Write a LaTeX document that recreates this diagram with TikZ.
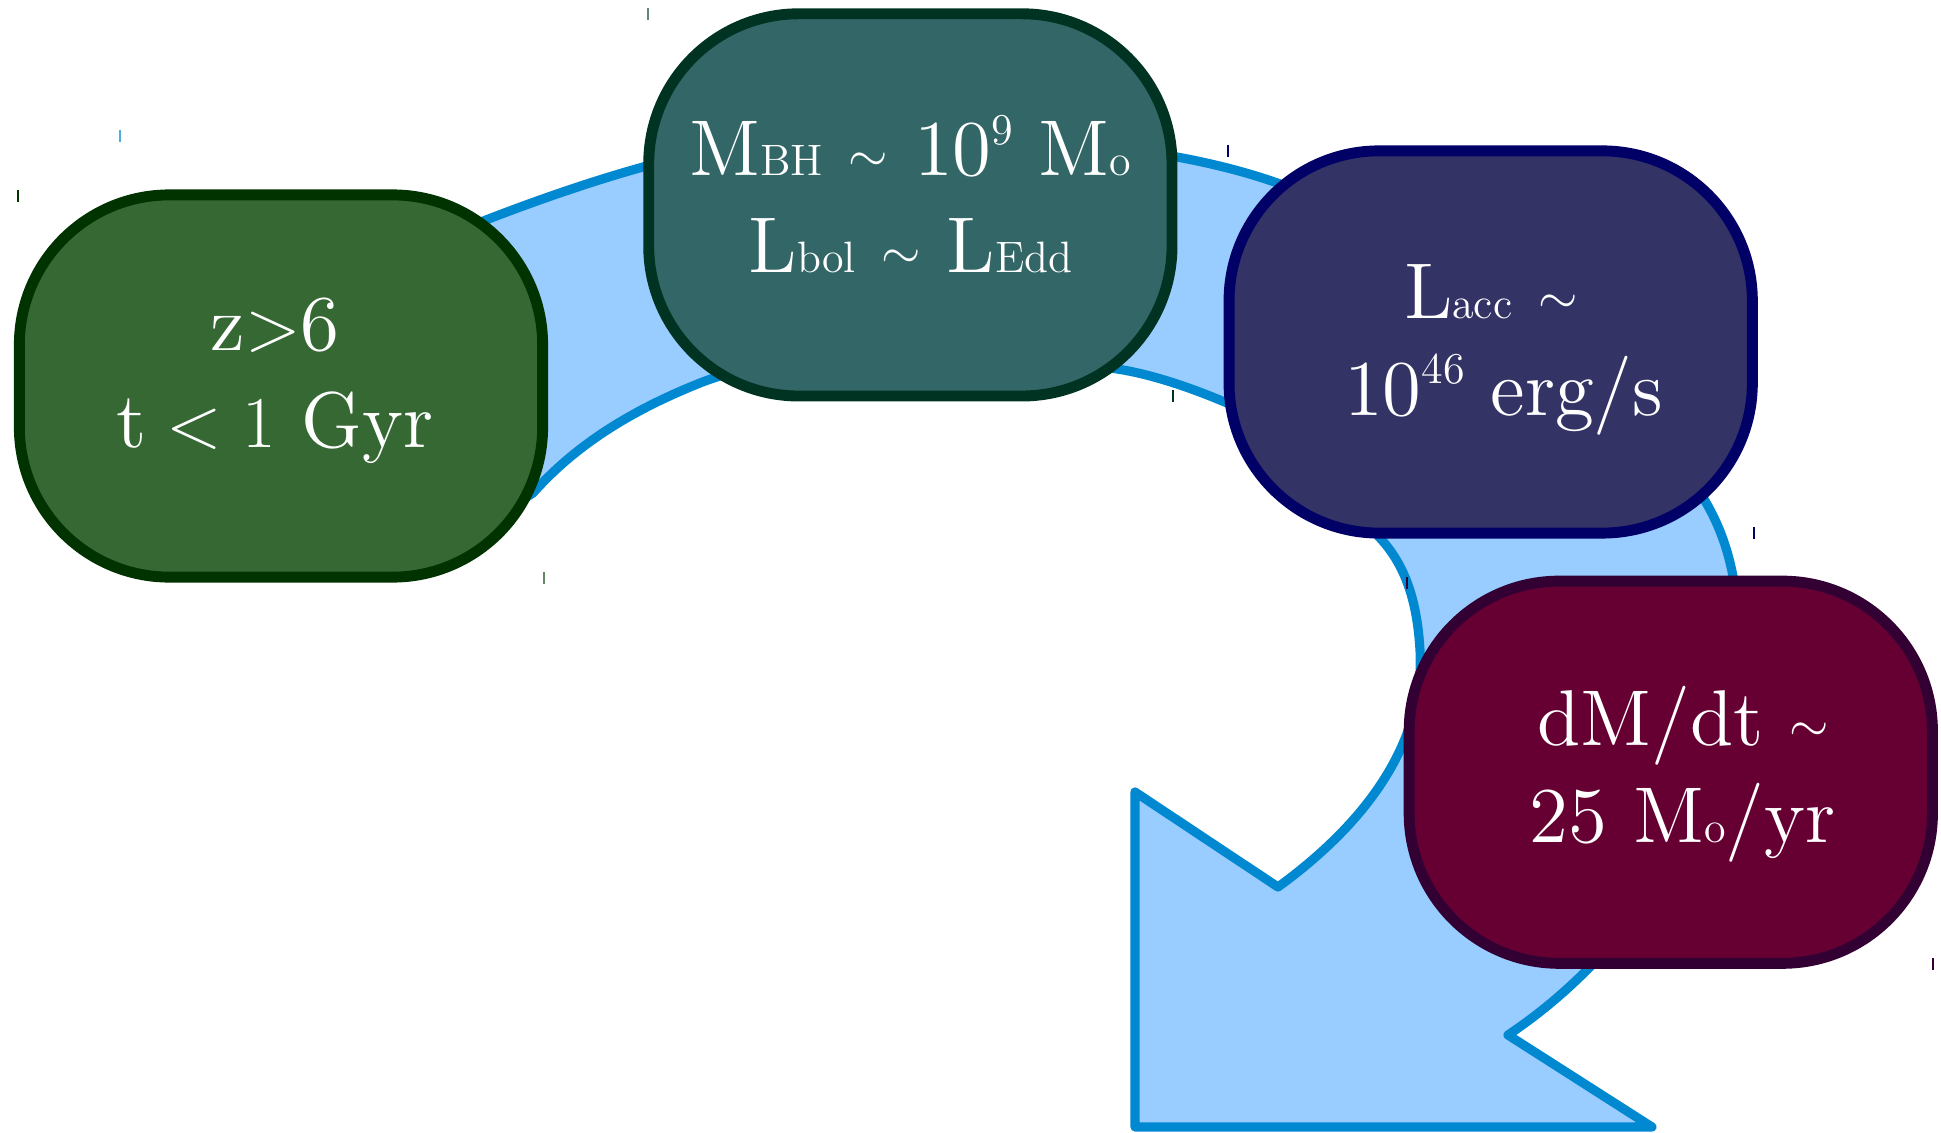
\documentclass[tikz,border=0pt]{standalone}
\usepackage{amsmath}
\usepackage{fontspec}
\setmainfont{lmroman12-regular.otf}
\usepackage{tikz}
\usetikzlibrary{positioning}

\definecolor{bandfill}{HTML}{99CCFF}
\definecolor{bandline}{HTML}{0088D1}
\definecolor{erafill}{HTML}{366834}
\definecolor{eraline}{HTML}{003300}
\definecolor{massfill}{HTML}{336666}
\definecolor{massline}{HTML}{003322}
\definecolor{laccfill}{HTML}{333366}
\definecolor{laccline}{HTML}{000066}
\definecolor{mdotfill}{HTML}{660033}
\definecolor{mdotline}{HTML}{330033}

\newcommand{\bigtxt}{\fontsize{22.5}{27.6}\selectfont}
\newcommand{\sml}[1]{{\fontsize{12.5}{14}\selectfont #1}}
\newcommand{\pw}[1]{\raisebox{9pt}{\sml{#1}}}
\newcommand{\tld}{\raisebox{1.3pt}{\fontsize{15}{16}\selectfont$\sim$}}
% struts and padding to set the text inside the boxes
\newcommand{\htstrut}[1]{\rule{0pt}{#1}}
\newcommand{\dpstrut}[1]{\rule[-#1]{0pt}{#1}}
\newcommand{\pad}[1]{\hspace*{#1}}

\begin{document}
\begin{tikzpicture}[
  x=0.01cm, y=-0.01cm,
  every node/.style={font=\bigtxt, text=white},
  stage/.style={rectangle, rounded corners=1.5cm, line width=3.1pt, align=center, minimum width=5.23cm, minimum height=3.82cm, inner sep=0pt, outer sep=0pt},
  band/.style={fill=bandfill, draw=bandline, line width=2.6pt, line join=round},
  tick/.style={line width=0.5pt}
]
\useasboundingbox (0,0) rectangle (1941,1133);

% the big curved arrow behind the boxes
\draw[band] (400,255) .. controls (470,225) and (560,190) .. (643,167)
  .. controls (820,115) and (1010,125) .. (1177,157)
  .. controls (1215,164) and (1250,173) .. (1283,185)
  .. controls (1450,245) and (1620,378) .. (1698,490)
  .. controls (1795,630) and (1710,900) .. (1508,1035)
  -- (1652,1127) -- (1135,1127) -- (1135,792) -- (1278,887)
  .. controls (1370,820) and (1425,740) .. (1420,650)
  .. controls (1417,600) and (1405,565) .. (1380,538)
  .. controls (1345,500) and (1287,429) .. (1227,403)
  .. controls (1187,386) and (1140,370) .. (1100,367)
  .. controls (1000,352) and (800,343) .. (700,383)
  .. controls (640,407) and (580,440) .. (533,493)
  -- (460,540) -- cycle;

\node[stage, fill=erafill, draw=eraline] (era) at (281,386)
  {z$>$6\pad{.12cm}\\ \(\mathrm{t} < 1\) Gyr\pad{.12cm}\dpstrut{7.8pt}};
\node[stage, fill=massfill, draw=massline, right=1.06cm of era, yshift=1.81cm] (mass)
  {M\sml{BH} \tld{} 10\pw{9} M\sml{o}\\L\sml{bol} \tld{} L\sml{Edd}\dpstrut{6.3pt}};
\node[stage, fill=laccfill, draw=laccline, right=0.57cm of mass, yshift=-1.37cm] (lacc)
  {\htstrut{19.9pt}L\sml{acc} \tld\\ \pad{.26cm}10\pw{46} erg/s};
\node[stage, fill=mdotfill, draw=mdotline, below=0.48cm of lacc, xshift=1.8cm] (mdot)
  {\pad{.24cm}\htstrut{18.2pt}dM/dt \tld\\ \pad{.24cm}25 M\sml{o}/yr};

% small marks at the box corners
\foreach \x/\y/\c in {120/130/bandline!70, 18/190/eraline, 544/572/eraline!60, 648/8/massline!60,
  1173/390/massline, 1228/145/laccline, 1754/527/laccline, 1407/577/mdotline, 1933/958/mdotline}
  \draw[tick, \c] (\x,\y) -- (\x,\y+12);
\end{tikzpicture}
\end{document}
